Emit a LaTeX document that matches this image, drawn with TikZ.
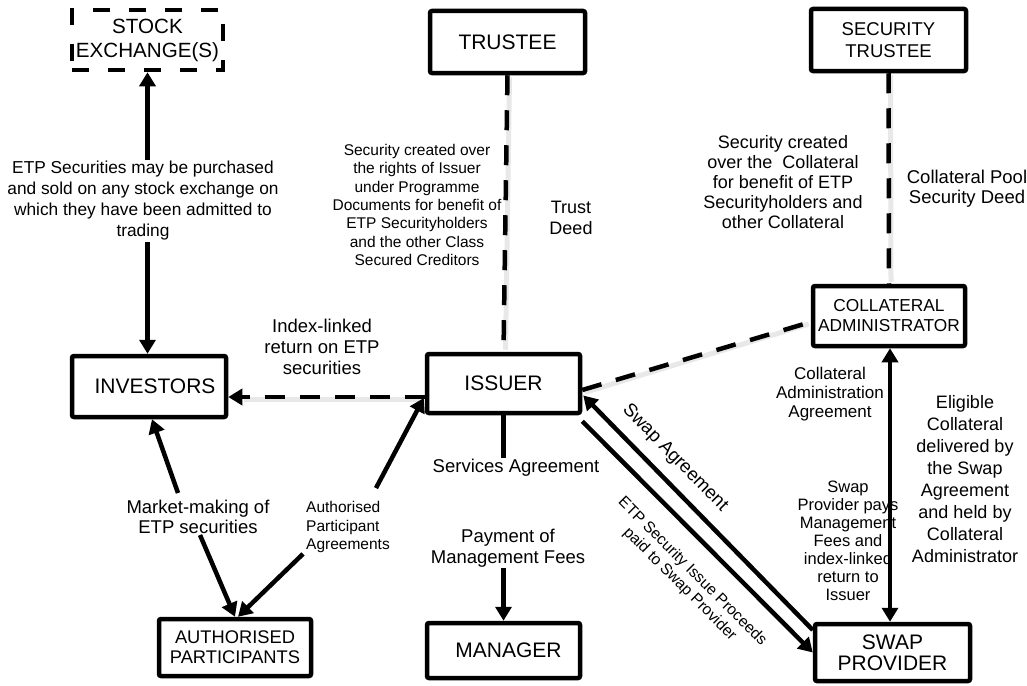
\documentclass[tikz,border=0pt]{standalone}
\usepackage{fontspec}
\setmainfont{Liberation Sans}
\usetikzlibrary{arrows.meta,calc}
\begin{document}
\begin{tikzpicture}[x=1pt,y=-1pt,
  box/.style={draw, line width=4.5pt, rounded corners=2pt, fill=white, align=center, inner sep=0pt},
  dbox/.style={box, dash pattern=on 17pt off 19pt, rounded corners=0pt},
  lbl/.style={align=center, inner sep=1pt},
  conn/.style={line width=4.5pt},
  arr/.style={conn, -{Triangle[length=14pt,width=16pt]}},
  arrb/.style={conn, {Triangle[length=14pt,width=16pt]}-{Triangle[length=14pt,width=16pt]}},
  dconn/.style={line width=4.5pt, dash pattern=on 20pt off 15pt},
  darr/.style={dconn, -{Triangle[length=14pt,width=16pt]}},
  shade/.style={line width=5pt, black!9},
]
\useasboundingbox (0,0) rectangle (1027,685);

% boxes
\node[dbox, minimum width=151pt, minimum height=60pt, font=\fontsize{20.6}{24}\selectfont] (stock) at (147.5,40) {STOCK\\EXCHANGE(S)};
\node[box, minimum width=155pt, minimum height=62pt, font=\fontsize{21}{24}\selectfont] (trustee) at (507.5,42) {TRUSTEE};
\node[box, minimum width=155pt, minimum height=62pt, font=\fontsize{18.5}{22}\selectfont] (sectrustee) at (888.5,40) {SECURITY\\TRUSTEE};
\node[box, minimum width=152pt, minimum height=60pt, font=\fontsize{17.3}{20}\selectfont] (colladmin) at (889,316) {COLLATERAL\\ADMINISTRATOR};
\node[box, minimum width=154pt, minimum height=61pt, font=\fontsize{21}{24}\selectfont] (investors) at (149,386.5) {\hspace*{12pt}INVESTORS};
\node[box, minimum width=153pt, minimum height=59pt, font=\fontsize{21}{24}\selectfont] (issuer) at (503.5,383.5) {ISSUER};
\node[box, minimum width=152pt, minimum height=57pt, font=\fontsize{18.3}{20}\selectfont] (ap) at (235,647.5) {AUTHORISED\\PARTICIPANTS};
\node[box, minimum width=153pt, minimum height=55pt, font=\fontsize{21}{24}\selectfont] (manager) at (503.5,650.5) {\hspace*{10pt}MANAGER};
\node[box, minimum width=155pt, minimum height=57pt, font=\fontsize{21}{21}\selectfont] (swap) at (892.5,652.5) {SWAP\\PROVIDER};

% labels
\node[lbl, font=\fontsize{17.3}{21}\selectfont] (lblse) at (143,201) {ETP Securities may be purchased\\and sold on any stock exchange on\\which they have been admitted to\\trading};
\node[lbl, font=\fontsize{18.5}{21}\selectfont] (lblidx) at (322,347) {Index-linked\\return on ETP\\securities};
\node[lbl, font=\fontsize{15.5}{18.4}\selectfont] (lbltr) at (417,205) {Security created over\\the rights of Issuer\\under Programme\\Documents for benefit of\\ETP Securityholders\\and the other Class\\Secured Creditors};
\node[lbl, font=\fontsize{18}{21}\selectfont] (lbltd) at (571,218) {Trust\\Deed};
\node[lbl, font=\fontsize{18}{19.8}\selectfont] (lblsc) at (783,182) {Security created\\over the\ \ Collateral\\for benefit of ETP\\Securityholders and\\other Collateral};
\node[lbl, font=\fontsize{18.5}{20}\selectfont] (lblcp) at (967,189) {Collateral Pool\\Security Deed};
\node[lbl, font=\fontsize{17}{19}\selectfont] (lblcaa) at (830,394) {Collateral\\Administration\\Agreement};
\node[lbl, font=\fontsize{16.5}{18}\selectfont] (lblspp) at (848,541) {Swap\\Provider pays\\Management\\Fees and\\index-linked\\return to\\Issuer};
\node[lbl, font=\fontsize{18}{22}\selectfont] (lblelig) at (965,479) {Eligible\\Collateral\\delivered by\\the Swap\\Agreement\\and held by\\Collateral\\Administrator};
\node[lbl, font=\fontsize{18.5}{21}\selectfont] (lblsvc) at (516,468) {Services Agreement};
\node[lbl, font=\fontsize{18.5}{21}\selectfont] (lblpay) at (508,548) {Payment of\\Management Fees};
\node[lbl, font=\fontsize{18.5}{20}\selectfont] (lblmm) at (198,517) {Market-making of\\ETP securities};
\node[lbl, align=left, anchor=west, font=\fontsize{15.5}{18.5}\selectfont] (lblapa) at (305,527) {Authorised\\Participant\\Agreements};
\node[lbl, rotate=-45.5, font=\fontsize{18.5}{21}\selectfont] (lblswap) at (675,458) {Swap Agreement};
\node[lbl, rotate=-45, font=\fontsize{15.6}{17.6}\selectfont] (lblproc) at (686,578) {ETP Security Issue Proceeds\\paid to Swap Provider};

% dashed connectors (with soft shadow)
\draw[shade] ($(trustee.south)+(2,2)$) -- ($(issuer.north)+(2,-2)$);
\draw[shade] ($(sectrustee.south)+(2,2)$) -- ($(colladmin.north)+(2,-2)$);
\draw[shade] ($(issuer.east)+(2,9)$) -- ($(colladmin.west)+(-2,8)$);
\draw[shade] ($(issuer.west)+(-2,15.5)$) -- ($(investors.east)+(16,12.5)$);

\draw[dconn] (trustee.south) -- (issuer.north);
\draw[dconn] (sectrustee.south) -- (colladmin.north);
\draw[dconn] ($(issuer.east)+(0,6.5)$) -- ($(colladmin.west)+(0,6)$);
\draw[darr] ($(issuer.west)+(0,13.5)$) -- ($(investors.east)+(0,10.5)$);

% solid connectors
\draw[arr] (lblse.north -| stock.south) -- (stock.south);
\draw[arr] (lblse.south -| stock.south) -- (stock.south |- investors.north);
\draw[arr] ($(swap.west)+(0,-22.5)$) -- ($(issuer.east)+(1,12)$);
\draw[arr] ($(issuer.south east)+(0,6)$) -- (swap.west);
\draw[arrb] ($(colladmin.south)+(1,0)$) -- ($(colladmin.south |- swap.north)+(1,0)$);
\draw[conn] (issuer.south) -- (lblsvc.north -| issuer.south);
\draw[arr] (lblpay.south -| manager.north) -- (manager.north);
\draw[arr] ($(lblmm.north)+(-20,-6)$) -- ($(investors.south)+(3,0)$);
\draw[arr] ($(lblmm.south)+(2,0)$) -- (ap.north);
\draw[arr] ($(lblapa.south west)+(-2,0)$) -- ($(ap.north)+(3,0)$);
\draw[arr] ($(lblapa.north east)+(-15,-12)$) -- ($(issuer.west)+(-1,14.5)$);
\end{tikzpicture}
\end{document}
